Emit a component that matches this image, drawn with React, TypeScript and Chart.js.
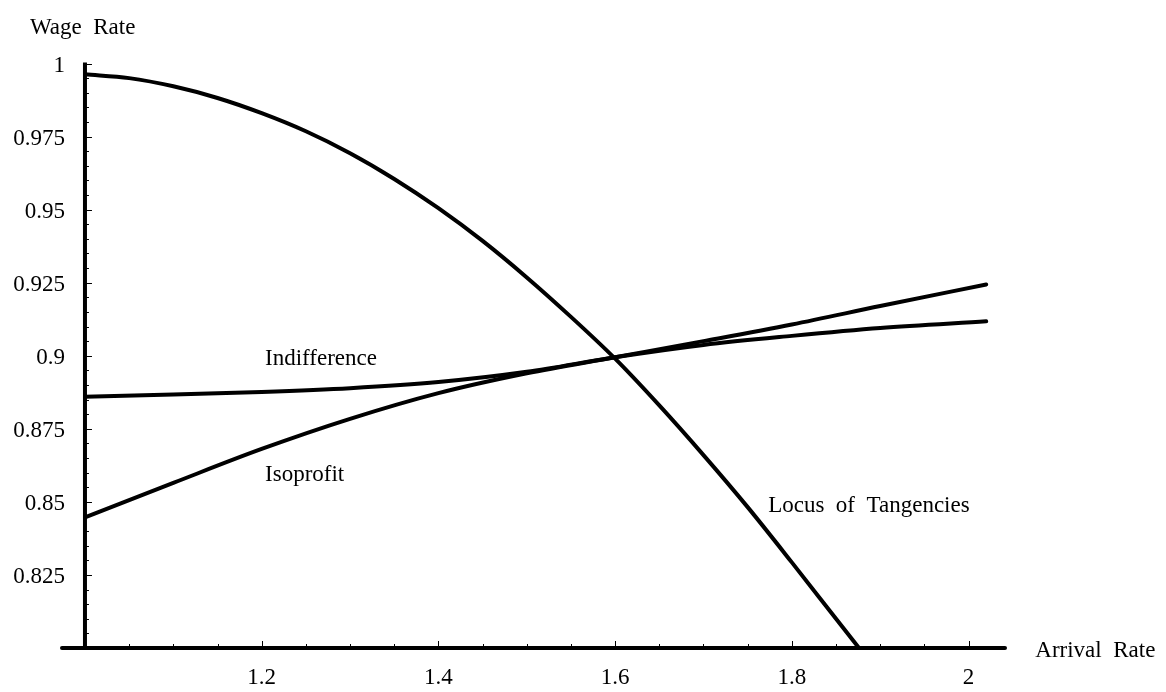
import React, { useEffect, useRef } from "react";
import { Chart, registerables } from "chart.js";

Chart.register(...registerables);

// Locus of tangencies between indifference and isoprofit curves
const locusX = [1.0, 1.05, 1.1, 1.15, 1.2, 1.25, 1.3, 1.35, 1.4, 1.45, 1.5, 1.55, 1.6, 1.65, 1.7, 1.75, 1.8, 1.85, 1.876];
const locusY = [0.9963, 0.995, 0.9922, 0.9882, 0.983, 0.9768, 0.9693, 0.9605, 0.9505, 0.9393, 0.9268, 0.9133, 0.899, 0.883, 0.866, 0.8482, 0.8293, 0.81, 0.8];

// Worker indifference curve
const indifferenceX = [1.0, 1.1, 1.2, 1.3, 1.4, 1.5, 1.6, 1.7, 1.8, 1.9, 2.02];
const indifferenceY = [0.886, 0.8867, 0.8876, 0.8889, 0.891, 0.8945, 0.8995, 0.9037, 0.9068, 0.9095, 0.9118];

// Firm isoprofit curve
const isoprofitX = [1.0, 1.1, 1.2, 1.3, 1.4, 1.5, 1.6, 1.7, 1.8, 1.9, 2.02];
const isoprofitY = [0.8447, 0.8565, 0.8681, 0.8784, 0.8872, 0.894, 0.8995, 0.905, 0.9107, 0.917, 0.9244];

// Axis ticks
const xTickValues = [1.2, 1.4, 1.6, 1.8, 2];
const xTickLabels = ["1.2", "1.4", "1.6", "1.8", "2"];
const yTickValues = [0.825, 0.85, 0.875, 0.9, 0.925, 0.95, 0.975, 1];
const yTickLabels = ["0.825", "0.85", "0.875", "0.9", "0.925", "0.95", "0.975", "1"];

const X_MIN = 0.9774;
const X_MAX = 2.0435;
const X_AXIS_START = 0.974;
const Y_MIN = 0.8;
const Y_MAX = 1.0;
const X_ORIGIN = 1.0;
const X_MINOR_STEP = 0.05;
const Y_MINOR_STEP = 0.005;

const FONT_FAMILY = "'Liberation Serif', 'Times New Roman', serif";
const FONT_SIZE = 23;

// Text placed in data coordinates
const textLabels = [
  { text: "Wage  Rate", x: 0.9377, y: 1.01 },
  { text: "Arrival  Rate", x: 2.0755, y: 0.797 },
  { text: "Indifference", x: 1.2038, y: 0.8969 },
  { text: "Isoprofit", x: 1.2038, y: 0.8572 },
  { text: "Locus  of  Tangencies", x: 1.7732, y: 0.8466 },
];

function stepValues(from: number, to: number, step: number): number[] {
  const out: number[] = [];
  for (let v = from; v <= to + 1e-9; v += step) out.push(Math.round(v * 10000) / 10000);
  return out;
}

const xAllTicks = stepValues(1.05, 2.0, X_MINOR_STEP);
const yAllTicks = stepValues(0.805, 1.0, Y_MINOR_STEP);

function findIndex(v: number, list: number[]): number {
  return list.findIndex((m) => Math.abs(m - v) < 1e-6);
}

function zip(xs: number[], ys: number[]) {
  return xs.map((x, i) => ({ x, y: ys[i] }));
}

// Axis lines crossing at (1, 0.8), inward tick marks, and text annotations
const axisDecorations = {
  id: "axisDecorations",
  beforeDatasetsDraw(chart: any) {
    const { ctx, scales } = chart;
    const xs = scales.x;
    const ys = scales.y;
    const ox = xs.getPixelForValue(X_ORIGIN);
    const oy = ys.getPixelForValue(Y_MIN);
    const top = ys.getPixelForValue(Y_MAX);
    ctx.save();
    ctx.strokeStyle = "#000";

    ctx.lineWidth = 4;
    ctx.lineCap = "butt";
    ctx.beginPath();
    ctx.moveTo(ox, top - 1);
    ctx.lineTo(ox, oy);
    ctx.stroke();

    ctx.lineCap = "round";
    ctx.beginPath();
    ctx.moveTo(xs.getPixelForValue(X_AXIS_START), oy);
    ctx.lineTo(xs.getPixelForValue(X_MAX) - 2, oy);
    ctx.stroke();

    ctx.lineWidth = 1;
    ctx.lineCap = "butt";
    ctx.beginPath();
    xs.ticks.forEach((t: any) => {
      const px = Math.round(xs.getPixelForValue(t.value)) + 0.5;
      const len = findIndex(t.value, xTickValues) >= 0 ? 7 : 4;
      ctx.moveTo(px, oy);
      ctx.lineTo(px, oy - len);
    });
    ys.ticks.forEach((t: any) => {
      const py = Math.round(ys.getPixelForValue(t.value)) + 0.5;
      const len = findIndex(t.value, yTickValues) >= 0 ? 7 : 4;
      ctx.moveTo(ox, py);
      ctx.lineTo(ox + len, py);
    });
    ctx.stroke();
    ctx.restore();
  },
  afterDraw(chart: any) {
    const { ctx, scales } = chart;
    ctx.save();
    ctx.fillStyle = "#000";
    ctx.font = `${FONT_SIZE}px ${FONT_FAMILY}`;
    ctx.textAlign = "left";
    ctx.textBaseline = "alphabetic";
    textLabels.forEach((l) => {
      ctx.fillText(l.text, scales.x.getPixelForValue(l.x), scales.y.getPixelForValue(l.y));
    });
    ctx.restore();
  },
};

export default function App() {
  const canvasRef = useRef<HTMLCanvasElement | null>(null);

  useEffect(() => {
    const canvas = canvasRef.current;
    if (!canvas) return;

    const lineStyle = {
      borderColor: "#000",
      borderWidth: 4,
      pointRadius: 0,
      pointHoverRadius: 0,
      fill: false,
      cubicInterpolationMode: "monotone" as const,
      borderCapStyle: "round" as const,
      borderJoinStyle: "round" as const,
    };

    const tickFont = { family: FONT_FAMILY, size: FONT_SIZE };

    const chart = new Chart(canvas, {
      type: "line",
      data: {
        datasets: [
          { label: "Locus of Tangencies", data: zip(locusX, locusY), ...lineStyle },
          { label: "Indifference", data: zip(indifferenceX, indifferenceY), ...lineStyle },
          { label: "Isoprofit", data: zip(isoprofitX, isoprofitY), ...lineStyle },
        ],
      },
      options: {
        animation: false,
        responsive: false,
        devicePixelRatio: 1,
        layout: { padding: { left: 0, right: 159, top: 63.5, bottom: 0 } },
        plugins: {
          legend: { display: false },
          tooltip: { enabled: false },
        },
        scales: {
          x: {
            type: "linear",
            min: X_MIN,
            max: X_MAX,
            grid: { display: false },
            border: { display: false },
            ticks: {
              autoSkip: false,
              maxRotation: 0,
              color: "#000",
              font: tickFont,
              padding: 8,
              callback: (v: any) => {
                const i = findIndex(Number(v), xTickValues);
                return i >= 0 ? xTickLabels[i] : "";
              },
            },
            afterBuildTicks: (scale: any) => {
              scale.ticks = xAllTicks.map((value) => ({ value }));
            },
            afterFit: (scale: any) => {
              scale.height = 44;
            },
          },
          y: {
            type: "linear",
            min: Y_MIN,
            max: Y_MAX,
            position: "left",
            grid: { display: false, drawTicks: false, tickLength: 0 },
            border: { display: false },
            ticks: {
              autoSkip: false,
              color: "#000",
              font: tickFont,
              padding: 0,
              labelOffset: 2.5,
              callback: (v: any) => {
                const i = findIndex(Number(v), yTickValues);
                return i >= 0 ? yTickLabels[i] : "";
              },
            },
            afterBuildTicks: (scale: any) => {
              scale.ticks = yAllTicks.map((value) => ({ value }));
            },
            afterFit: (scale: any) => {
              scale.width = 65;
            },
          },
        },
      } as any,
      plugins: [axisDecorations],
    });

    return () => chart.destroy();
  }, []);

  return (
    <div style={{ position: "absolute", left: 0, top: 0, width: 1166, height: 692, background: "#fff" }}>
      <canvas ref={canvasRef} width={1166} height={692} />
    </div>
  );
}
